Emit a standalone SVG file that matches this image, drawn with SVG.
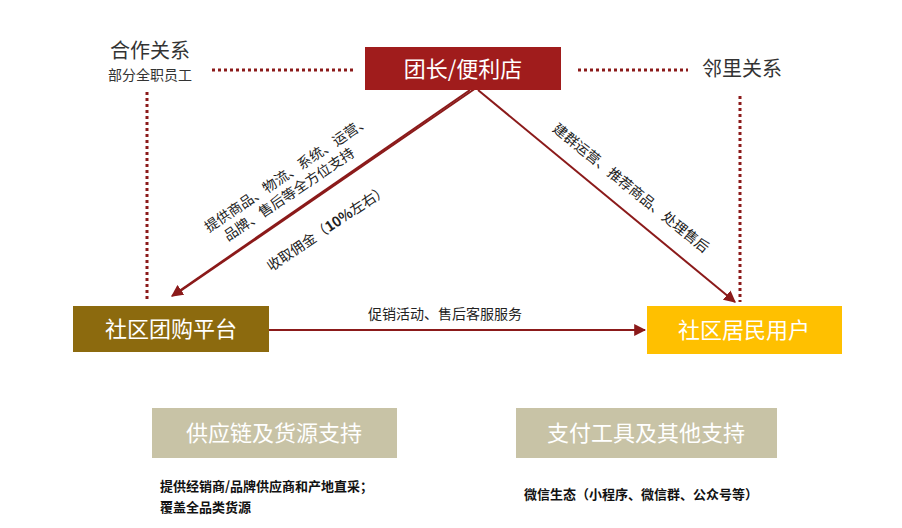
<svg xmlns="http://www.w3.org/2000/svg" width="902" height="528" viewBox="0 0 902 528">
<style>
text{font-family:"Noto Sans CJK SC","Liberation Sans",sans-serif;}
.w{fill:#fff;font-size:22px;text-anchor:middle}
.lbl{fill:#222;font-size:14px;text-anchor:middle}
.dot{stroke:#8B1A1A;stroke-width:3;stroke-dasharray:3 3;fill:none}
.ln{stroke:#8B1A1A;stroke-width:2;fill:none}
.big{fill:#333;font-size:20px;text-anchor:middle}
.bt{fill:#111;font-size:13px;font-weight:bold}
</style>
<defs><marker id="ar" viewBox="0 0 10 10" refX="9" refY="5" markerWidth="6" markerHeight="6" orient="auto"><path d="M0,0L10,5L0,10z" fill="#8B1A1A"/></marker></defs>
<rect width="902" height="528" fill="#fff"/>
<g id="connectors">
<path class="dot" d="M212,70H356M578,70H688M147,92V302M740,96V302"/>
<line class="ln" x1="470" y1="90" x2="172" y2="296" marker-end="url(#ar)"/>
<line class="ln" x1="176" y1="294" x2="476" y2="88"/>
<line class="ln" x1="478" y1="90" x2="735" y2="302" marker-end="url(#ar)"/>
<line class="ln" x1="269" y1="330" x2="645" y2="330" marker-end="url(#ar)"/>
<text class="lbl" x="445" y="319">促销活动、售后客服服务</text>
<g transform="translate(290,178) rotate(-34)"><text class="lbl" x="0" y="0">提供商品、物流、系统、运营、</text><text class="lbl" x="-10" y="18">品牌、售后等全方位支持</text></g>
<text class="lbl" transform="translate(330,232) rotate(-34)">收取佣金（<tspan font-weight="bold">10%</tspan>左右）</text>
<text class="lbl" transform="translate(628,192) rotate(39)">建群运营、推荐商品、处理售后</text>
</g>
<g id="rel-left"><text x="150" y="58" class="big">合作关系</text><text x="150" y="80" fill="#333" font-size="14" text-anchor="middle">部分全职员工</text></g>
<g id="rel-right"><text x="742" y="76" class="big">邻里关系</text></g>
<g id="top"><rect x="365" y="47" width="196" height="43" fill="#A01C1C"/><text class="w" x="463" y="77">团长/便利店</text></g>
<g id="left"><rect x="73" y="306" width="196" height="46" fill="#8C6A0E"/><text class="w" x="171" y="337">社区团购平台</text></g>
<g id="right"><rect x="647" y="306" width="195" height="48" fill="#FFC000"/><text class="w" x="744" y="338">社区居民用户</text></g>
<g id="supply"><rect x="152" y="408" width="245" height="50" fill="#C8C3A6"/><text class="w" x="274" y="441">供应链及货源支持</text>
<text class="bt" x="160" y="491">提供经销商/品牌供应商和产地直采；</text><text class="bt" x="160" y="512">覆盖全品类货源</text></g>
<g id="pay"><rect x="516" y="408" width="261" height="50" fill="#C8C3A6"/><text class="w" x="646" y="441">支付工具及其他支持</text>
<text class="bt" x="524" y="499">微信生态（小程序、微信群、公众号等）</text></g>
</svg>
